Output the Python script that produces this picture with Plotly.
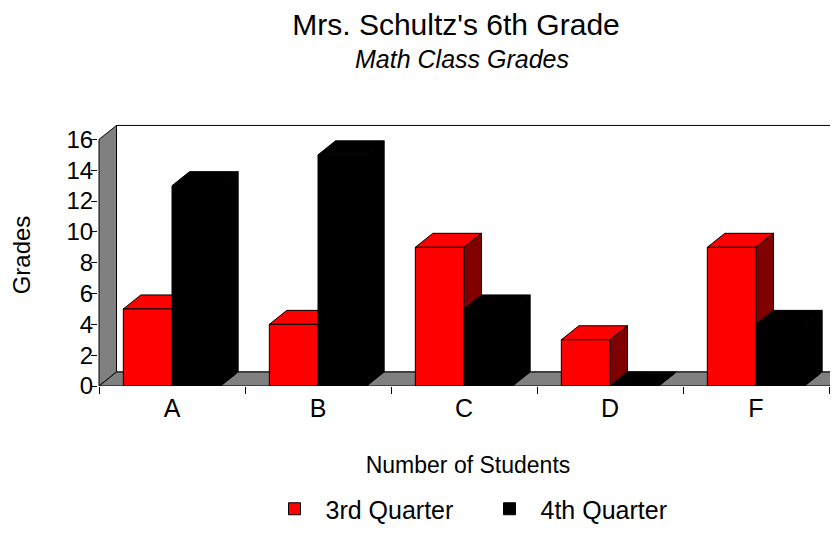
import plotly.graph_objects as go

# ---------------- data ----------------
categories = ["A", "B", "C", "D", "F"]
q3_values = [5, 4, 9, 3, 9]
q4_values = [13, 15, 5, 0, 4]
series_names = ["3rd Quarter", "4th Quarter"]
y_tick_values = [0, 2, 4, 6, 8, 10, 12, 14, 16]

title_text = "Mrs. Schultz's 6th Grade"
subtitle_text = "Math Class Grades"
x_title = "Number of Students"
y_title = "Grades"

# ---------------- style ----------------
RED = "#FF0000"
RED_SIDE = "#800000"
BLACK = "#000000"
GRAY = "#808080"
FONT = "Arial, Liberation Sans, sans-serif"

# the page body has an 8px margin, so the figure is 8px smaller than the window
W, H = 830, 526
M_L, M_R, M_T, M_B = 90, 0, 116, 148
PX_PER_X = 146.0
PX_PER_Y = 15.41
plot_w = W - M_L - M_R
plot_h = H - M_T - M_B
x_lo = -0.5 - 1.0 / PX_PER_X
x_hi = x_lo + plot_w / PX_PER_X
y_lo = 0
y_hi = plot_h / PX_PER_Y

DX = 17.5 / PX_PER_X   # depth offset (x, data units)
DY = 14.0 / PX_PER_Y   # depth offset (y, data units)
BAR_W = 1.0 / 3.0

n = len(categories)
xpos = list(range(n))
left_edge = xpos[0] - 0.5
right_edge = xpos[-1] + 0.5
wall_top = max(y_tick_values)
boundaries = [left_edge + i for i in range(n + 1)]


def top_face(x_left, w, h):
    xs = [x_left, x_left + w, x_left + w + DX, x_left + DX, x_left]
    ys = [h, h, h + DY, h + DY, h]
    return xs, ys


def side_face(x_right, h_lo, h_hi):
    xs = [x_right, x_right + DX, x_right + DX, x_right, x_right]
    ys = [h_lo, h_lo + DY, h_hi + DY, h_hi, h_lo]
    return xs, ys


def face_trace(xs, ys, color, xaxis, yaxis):
    return go.Scatter(
        x=xs, y=ys, mode="lines", fill="toself", fillcolor=color,
        line=dict(color=BLACK, width=1), showlegend=False, hoverinfo="skip",
        xaxis=xaxis, yaxis=yaxis,
    )


fig = go.Figure()

# back layer (main subplot): top and side faces of the 3rd-quarter bars
for xi, v in zip(xpos, q3_values):
    xs, ys = top_face(xi - BAR_W, BAR_W, v)
    fig.add_trace(face_trace(xs, ys, RED, "x", "y"))
    xs, ys = side_face(xi, 0, v)
    fig.add_trace(face_trace(xs, ys, RED_SIDE, "x", "y"))

# front layer (overlay subplot): bar fronts, then 4th-quarter top/side faces
fig.add_trace(go.Bar(
    x=xpos, y=q3_values, width=BAR_W, offset=-BAR_W, name=series_names[0],
    marker=dict(color=RED, line=dict(color=BLACK, width=1)),
    xaxis="x2", yaxis="y2",
))
fig.add_trace(go.Bar(
    x=xpos, y=q4_values, width=BAR_W, offset=0, name=series_names[1],
    marker=dict(color=BLACK, line=dict(color=BLACK, width=1)),
    xaxis="x2", yaxis="y2",
))
for xi, v in zip(xpos, q4_values):
    xs, ys = top_face(xi, BAR_W, v)
    fig.add_trace(face_trace(xs, ys, BLACK, "x2", "y2"))
    xs, ys = side_face(xi + BAR_W, 0, v)
    fig.add_trace(face_trace(xs, ys, BLACK, "x2", "y2"))

# walls and floor
shapes = [
    dict(type="rect", xref="x", yref="y", layer="below",
         x0=left_edge + DX, x1=right_edge + DX, y0=DY, y1=wall_top + DY,
         fillcolor="white", line=dict(color=BLACK, width=1)),
    dict(type="path", xref="x", yref="y", layer="below",
         path=f"M{left_edge},0 L{left_edge},{wall_top} L{left_edge + DX},{wall_top + DY} "
              f"L{left_edge + DX},{DY} Z",
         fillcolor=GRAY, line=dict(color=BLACK, width=1)),
    dict(type="path", xref="x", yref="y", layer="below",
         path=f"M{left_edge},0 L{right_edge},0 L{right_edge + DX},{DY} "
              f"L{left_edge + DX},{DY} Z",
         fillcolor=GRAY, line=dict(color=BLACK, width=1)),
]

fig.update_layout(
    width=W, height=H,
    margin=dict(l=M_L, r=M_R, t=M_T, b=M_B, pad=0, autoexpand=False),
    paper_bgcolor="white", plot_bgcolor="white",
    font=dict(family=FONT, color=BLACK, size=24),
    title=dict(
        text=title_text, font=dict(size=30, color=BLACK),
        x=448 / W, xanchor="center", xref="container",
        y=1 - 6 / H, yanchor="top", yref="container",
        automargin=False,
    ),
    annotations=[dict(
        text=f"<i>{subtitle_text}</i>", font=dict(size=25, color=BLACK),
        xref="paper", yref="paper", showarrow=False,
        x=(454 - M_L) / plot_w, xanchor="center",
        y=1 + (M_T - 51) / plot_h, yanchor="middle",
    )],
    xaxis=dict(
        range=[x_lo, x_hi], tickmode="array", tickvals=xpos, ticktext=categories,
        ticks="", showgrid=False, zeroline=False, showline=False,
        tickfont=dict(size=25), automargin=False, ticklabelstandoff=5,
        minor=dict(tickmode="array", tickvals=boundaries, ticks="outside",
                   ticklen=7, tickwidth=1, tickcolor=BLACK, showgrid=False),
        title=dict(text=x_title, font=dict(size=23), standoff=35),
    ),
    yaxis=dict(
        range=[y_lo, y_hi], tickmode="array", tickvals=y_tick_values,
        ticks="outside", ticklen=6, tickwidth=1, tickcolor=BLACK,
        showgrid=False, zeroline=False, showline=False,
        tickfont=dict(size=24), automargin=False, ticklabelstandoff=-7,
        title=dict(text=y_title, font=dict(size=24), standoff=38),
    ),
    xaxis2=dict(overlaying="x", matches="x", anchor="y2", visible=False),
    yaxis2=dict(overlaying="y", matches="y", anchor="x2", visible=False),
    barmode="overlay",
    showlegend=True,
    legend=dict(
        orientation="h", xref="container", yref="container",
        x=255.5 / W, xanchor="left",
        y=1 - 501 / H, yanchor="middle",
        font=dict(size=25), itemwidth=52,
        entrywidth=148, entrywidthmode="pixels",
        bgcolor="rgba(0,0,0,0)",
    ),
    shapes=shapes,
)

fig.write_html("out.html")
